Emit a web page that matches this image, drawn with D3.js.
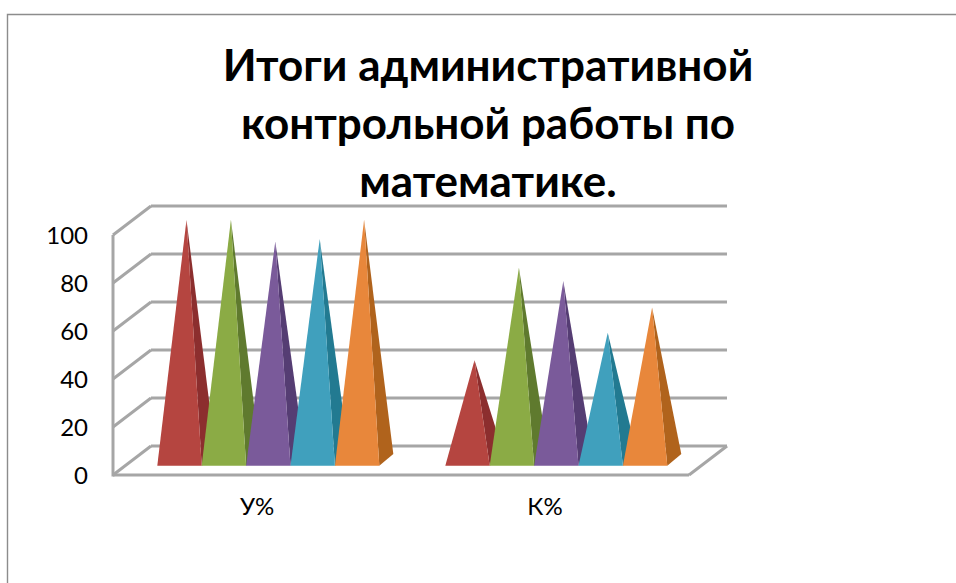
<!DOCTYPE html>
<html><head><meta charset="utf-8">
<script src="https://cdn.jsdelivr.net/npm/d3@7"></script>
<style>html,body{margin:0;padding:0;background:#fff}svg{display:block}</style></head>
<body><svg id="c" width="956" height="583"></svg>
<script>
const categories = ["У%", "К%"];
const seriesNames = ["s1", "s2", "s3", "s4", "s5"];
const s1 = [100, 41.5];
const s2 = [100, 80];
const s3 = [91, 74.5];
const s4 = [92, 53];
const s5 = [100, 63.5];
const yTicks = [0, 20, 40, 60, 80, 100];
const titleLines = ["Итоги административной", "контрольной работы по", "математике."];
const frontColors = ["#b5443f", "#8bab45", "#7a5a9a", "#3fa0bd", "#e8873a"];
const sideColors = ["#8c2f2e", "#5f7a2e", "#553c73", "#217a91", "#b0631f"];

const series = [s1, s2, s3, s4, s5];
const svg = d3.select("#c");
const F = "Lato, Carlito, sans-serif";
const gridC = "#a6a6a6";
const defs = svg.append("defs");
defs.append("filter").attr("id", "soft").append("feGaussianBlur").attr("stdDeviation", 0.5);
// frame
svg.append("path").attr("d", "M7.5,583V14.5H956").attr("fill", "none").attr("stroke", "#8c8c8c").attr("stroke-width", 1.4);

const y = d3.scaleLinear().domain([0, 100]).range([475, 235]);
const x0 = d3.scaleBand().domain(categories).range([113, 689]);
const x1 = d3.scaleBand().domain(seriesNames).range([0, 222]);
const wall = { dx: 38, dy: -29 };
const g = svg.append("g").attr("filter", "url(#soft)");
const line = (a, b, c, d) => g.append("line").attr("x1", a).attr("y1", b).attr("x2", c).attr("y2", d)
  .attr("stroke", gridC).attr("stroke-width", 3);

// gridlines
yTicks.forEach(t => {
  const yy = y(t);
  line(113, yy, 113 + wall.dx, yy + wall.dy);
  line(113 + wall.dx, yy + wall.dy, 689 + wall.dx, yy + wall.dy);
});
line(689, 475, 689 + wall.dx, 475 + wall.dy);
line(113, y(100), 113, y(0) + 1.5);
line(113, y(0), 689, y(0));

// pyramids
const baseY = 465.7, depthX = 14, depthY = -11.7, groupOffset = 44.3;
const unit = (y(0) - y(100)) / 100;
categories.forEach((c, ci) => {
  const gx = x0(c) + groupOffset;
  seriesNames.forEach((s, si) => {
    const l = gx + x1(s), w = x1.bandwidth(), r = l + w;
    const tipX = l + w / 2 + depthX / 2;
    const tipY = baseY + depthY / 2 - series[si][ci] * unit;
    const p = g.append("g");
    p.append("polygon").attr("fill", sideColors[si])
      .attr("points", [[r, baseY], [r + depthX, baseY + depthY], [tipX, tipY]].join(" "));
    p.append("polygon").attr("fill", frontColors[si])
      .attr("points", [[l, baseY], [r, baseY], [tipX, tipY]].join(" "));
  });
});

// title
svg.append("g").selectAll("text").data(titleLines).join("text")
  .attr("x", 488).attr("y", (d, i) => [81, 139, 197][i])
  .attr("text-anchor", "middle").attr("font-family", F).attr("font-weight", 700)
  .attr("font-size", 44).attr("fill", "#000").text(d => d);

// axes
const ax = d3.axisLeft(y).tickValues(yTicks).tickSize(0).tickPadding(25);
const axG = svg.append("g").attr("transform", "translate(113,0.5)").call(ax);
axG.select(".domain").remove();
axG.selectAll("text").attr("font-family", F).attr("font-size", 24).attr("fill", "#000");
const bx = d3.axisBottom(x0).tickSize(0).tickPadding(23);
const bxG = svg.append("g").attr("transform", "translate(0,475)").call(bx);
bxG.select(".domain").remove();
bxG.selectAll("text").attr("font-family", F).attr("font-size", 24).attr("fill", "#000");
</script></body></html>
